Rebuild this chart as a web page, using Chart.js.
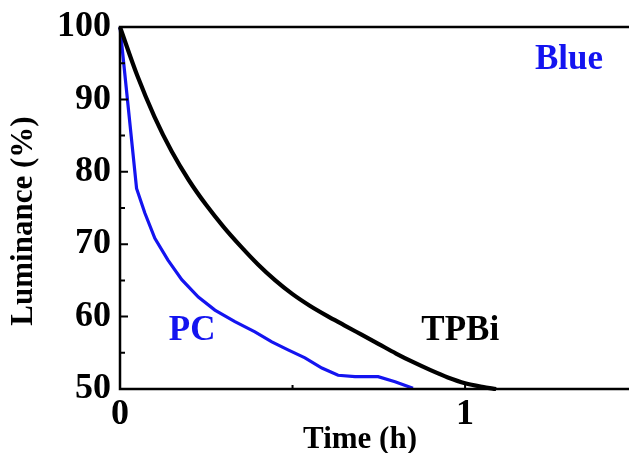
<!DOCTYPE html>
<html><head><meta charset="utf-8">
<script src="https://cdn.jsdelivr.net/npm/chart.js@4/dist/chart.umd.min.js"></script>
<style>html,body{margin:0;padding:0;background:#fff;overflow:hidden}</style>
</head><body>
<canvas id="c" width="629" height="453" style="display:block;width:629px;height:453px"></canvas>
<script>
// ---- data ----
const tpbiTime = [0, 0.05, 0.10, 0.15, 0.20, 0.25, 0.30, 0.35, 0.40, 0.45, 0.50, 0.55, 0.60, 0.65, 0.70, 0.75, 0.80, 0.85, 0.90, 0.95, 1.00, 1.05, 1.09];
const tpbiLum  = [100, 93.3, 87.6, 82.8, 78.8, 75.4, 72.4, 69.7, 67.2, 65.0, 63.1, 61.5, 60.1, 58.8, 57.5, 56.2, 54.9, 53.7, 52.6, 51.6, 50.8, 50.3, 50.0];
const pcTime = [0, 0.048, 0.072, 0.101, 0.139, 0.179, 0.227, 0.275, 0.333, 0.391, 0.44, 0.487, 0.536, 0.585, 0.632, 0.681, 0.748, 0.797, 0.849];
const pcLum  = [100, 77.7, 74.3, 70.8, 67.8, 65.1, 62.7, 60.9, 59.3, 57.9, 56.5, 55.4, 54.3, 52.9, 51.9, 51.7, 51.7, 51.0, 50.1];
const xMajorTicks = [0, 1];
const xMinorTicks = [0.5];
const yMajorTicks = [50, 60, 70, 80, 90, 100];
const yMinorTicks = [55, 65, 75, 85, 95];
const seriesNames = ['TPBi', 'PC'];
const xTitle = 'Time (h)';
const yTitle = 'Luminance (%)';
const annotations = [
  {text: 'PC', x: 0.209, y: 58.0, color: '#1414f0'},
  {text: 'TPBi', x: 0.986, y: 58.0, color: '#000000'},
  {text: 'Blue', x: 1.301, y: 95.4, color: '#1414f0'}
];

const FONT = "'Liberation Serif','Times New Roman',serif";
const BLUE = '#1414f0';

const decor = {
  id: 'decor',
  afterDatasetsDraw(chart) {
    const {ctx, chartArea: a, scales: {x, y}} = chart;
    ctx.save();
    ctx.strokeStyle = '#000';
    ctx.lineWidth = 2.5;
    ctx.lineCap = 'square';
    ctx.beginPath();
    ctx.moveTo(a.left, a.top); ctx.lineTo(chart.width + 2, a.top);
    ctx.moveTo(a.left, a.top); ctx.lineTo(a.left, a.bottom);
    ctx.lineTo(chart.width + 2, a.bottom);
    ctx.stroke();
    ctx.lineWidth = 2;
    ctx.lineCap = 'butt';
    ctx.beginPath();
    yMajorTicks.forEach(v => { const p = y.getPixelForValue(v); ctx.moveTo(a.left, p); ctx.lineTo(a.left + 8, p); });
    yMinorTicks.forEach(v => { const p = y.getPixelForValue(v); ctx.moveTo(a.left, p); ctx.lineTo(a.left + 5, p); });
    xMajorTicks.forEach(v => { const p = x.getPixelForValue(v); ctx.moveTo(p, a.bottom); ctx.lineTo(p, a.bottom - 7); });
    xMinorTicks.forEach(v => { const p = x.getPixelForValue(v); ctx.moveTo(p, a.bottom); ctx.lineTo(p, a.bottom - 4); });
    ctx.stroke();
    // annotations
    ctx.textAlign = 'center';
    ctx.textBaseline = 'middle';
    ctx.font = "bold 35px " + FONT;
    annotations.forEach(t => {
      ctx.fillStyle = t.color;
      ctx.fillText(t.text, x.getPixelForValue(t.x), y.getPixelForValue(t.y));
    });
    // axis titles
    ctx.fillStyle = '#000';
    ctx.font = "bold 31px " + FONT;
    ctx.fillText(xTitle, 360, 440);
    ctx.save();
    ctx.translate(24, 221);
    ctx.rotate(-Math.PI / 2);
    ctx.fillText(yTitle, 0, 0);
    ctx.restore();
    ctx.restore();
  }
};

new Chart(document.getElementById('c'), {
  type: 'line',
  data: {
    datasets: [
      {label: seriesNames[0], data: tpbiTime.map((t, i) => ({x: t, y: tpbiLum[i]})),
       borderColor: '#000', borderWidth: 4.2, pointRadius: 0, cubicInterpolationMode: 'monotone', clip: false, fill: false},
      {label: seriesNames[1], data: pcTime.map((t, i) => ({x: t, y: pcLum[i]})),
       borderColor: BLUE, borderWidth: 3.2, pointRadius: 0, tension: 0, clip: false, fill: false}
    ]
  },
  options: {
    responsive: false,
    devicePixelRatio: 1,
    animation: false,
    layout: {padding: {top: 27, right: 0, left: 0, bottom: 0}},
    plugins: {legend: {display: false}, tooltip: {enabled: false}},
    scales: {
      x: {
        type: 'linear', min: 0, max: 1.475,
        afterFit: s => { s.height = 64; s.paddingLeft = 0; s.paddingRight = 0; },
        grid: {display: false, drawTicks: false},
        border: {display: false},
        afterBuildTicks: s => { s.ticks = xMajorTicks.map(v => ({value: v})); },
        ticks: {padding: 4, color: '#000', font: {family: FONT, size: 36, weight: 'bold'}, maxRotation: 0, autoSkip: false}
      },
      y: {
        type: 'linear', min: 50, max: 100,
        afterFit: s => { s.width = 120; s.paddingTop = 0; s.paddingBottom = 0; },
        grid: {display: false, drawTicks: false},
        border: {display: false},
        afterBuildTicks: s => { s.ticks = yMajorTicks.map(v => ({value: v})); },
        ticks: {padding: 9, color: '#000', font: {family: FONT, size: 36, weight: 'bold'}, autoSkip: false}
      }
    }
  },
  plugins: [decor]
});
</script>
</body></html>
